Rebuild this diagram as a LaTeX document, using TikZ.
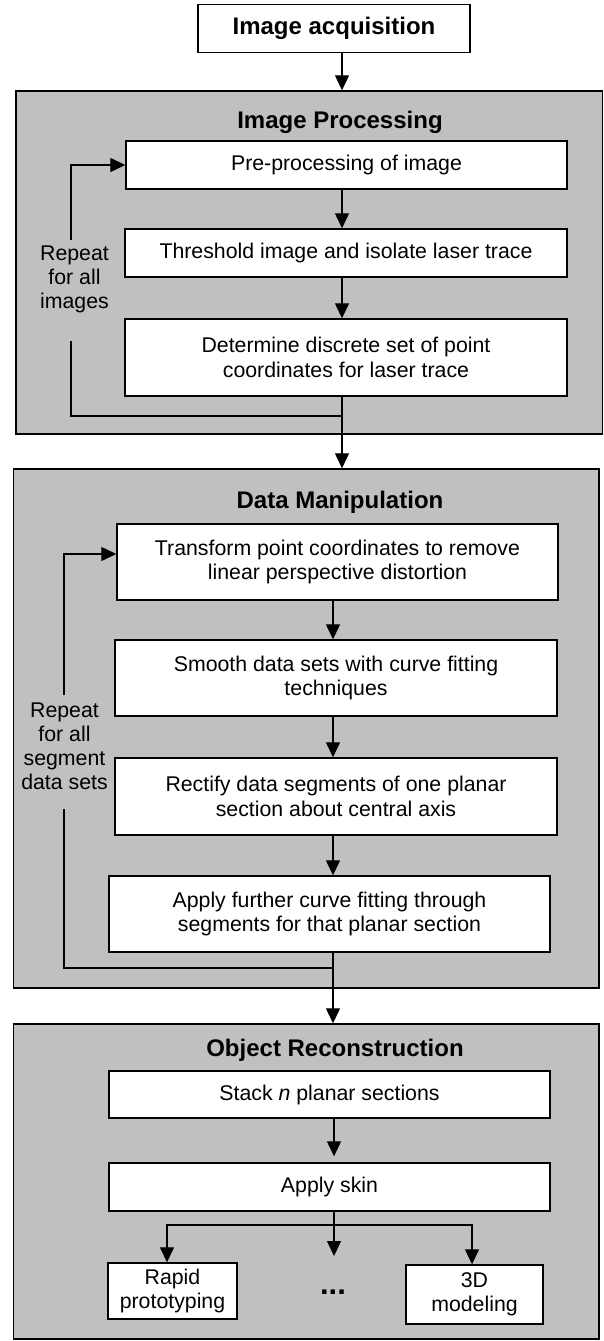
\documentclass[tikz,border=0pt]{standalone}
\usepackage{fontspec}
\setmainfont{Liberation Sans}
\usetikzlibrary{arrows.meta}
\definecolor{panelgray}{RGB}{192,192,192}

\begin{document}
\begin{tikzpicture}[x=1pt,y=-1pt,
  panel/.style={draw,line width=1.4pt,fill=panelgray,inner sep=0pt},
  stepbox/.style={draw,line width=1.4pt,fill=white,align=center,inner sep=0pt,font=\fontsize{21.3}{24.5}\selectfont},
  title/.style={font=\bfseries\fontsize{24}{28}\selectfont},
  note/.style={align=center,inner sep=0pt,font=\fontsize{21.3}{24}\selectfont},
  arr/.style={-{Triangle[width=14pt,length=15pt]},line width=1.3pt},
  wire/.style={line width=1.3pt}]

\useasboundingbox (0,0) rectangle (604,1341);

% the three grey stages
\node[panel,minimum width=586.5,minimum height=343] (ip) at (309.25,262.5) {};
\node[panel,minimum width=585.5,minimum height=519] (dm) at (306.25,728.5) {};
\node[panel,minimum width=585.5,minimum height=315] (orec) at (306.25,1181.5) {};

\node[title] (iptitle) at (340,122) {Image Processing};
\node[title] (dmtitle) at (340,502) {Data Manipulation};
\node[title] (ortitle) at (335,1050) {Object Reconstruction};

\node[stepbox,title,minimum width=272,minimum height=48] (acq) at (334,28.7) {Image acquisition};

\node[stepbox,minimum width=441,minimum height=48] (pre) at (346.5,165) {Pre-processing of image};
\node[stepbox,minimum width=442,minimum height=48] (thr) at (346,253) {Threshold image and isolate laser trace};
\node[stepbox,minimum width=442,minimum height=77] (det) at (346,357.5) {Determine discrete set of point\\coordinates for laser trace};
\node[note] (rep1) at (74.5,279) {Repeat\\for all\\images};

\node[stepbox,minimum width=441,minimum height=76] (trf) at (337.5,562) {Transform point coordinates to remove\\linear perspective distortion};
\node[stepbox,minimum width=442,minimum height=76] (smo) at (336,678) {Smooth data sets with curve fitting\\techniques};
\node[stepbox,minimum width=442,minimum height=77] (rec) at (336,796.5) {Rectify data segments of one planar\\section about central axis};
\node[stepbox,minimum width=441,minimum height=76] (apl) at (329.5,914) {Apply further curve fitting through\\segments for that planar section};
\node[note] (rep2) at (64.5,746) {Repeat\\for all\\segment\\data sets};

\node[stepbox,minimum width=441,minimum height=47] (stk) at (329.5,1094.5) {Stack \textit{n} planar sections};
\node[stepbox,minimum width=441,minimum height=48] (skn) at (329.5,1187) {Apply skin};
\node[stepbox,minimum width=129,minimum height=56] (rap) at (172.5,1291) {Rapid\\prototyping};
\node[stepbox,minimum width=137,minimum height=59] (mod) at (474.5,1294.5) {3D\\modeling};
\node[note,font=\bfseries\fontsize{31}{31}\selectfont] (dots) at (333,1292) {...};

\coordinate (axa) at (342,0);
\coordinate (axb) at (333,0);
\coordinate (lpa) at (71,416);
\coordinate (r1bot) at (71,341);
\coordinate (r1top) at (71,240);
\coordinate (lpb) at (64,968);
\coordinate (r2bot) at (64,809);
\coordinate (r2top) at (64,695);
\coordinate (br) at (334,1225);
\coordinate (brmid) at (334,1256);

% main flow
\draw[arr] (acq.south -| axa) -- (ip.north -| axa);
\draw[arr] (pre.south -| axa) -- (thr.north -| axa);
\draw[arr] (thr.south -| axa) -- (det.north -| axa);
\draw[arr] (det.south -| axa) -- (dm.north -| axa);
\draw[arr] (trf.south -| axb) -- (smo.north -| axb);
\draw[arr] (smo.south -| axb) -- (rec.north -| axb);
\draw[arr] (rec.south -| axb) -- (apl.north -| axb);
\draw[arr] (apl.south -| axb) -- (orec.north -| axb);
\draw[arr,shorten >=6pt] (stk.south -| br) -- (skn.north -| br);

% repeat loops
\draw[wire] (det.south -| axa) |- (lpa) -- (r1bot);
\draw[arr] (r1top) |- (pre.west);
\draw[wire] (apl.south -| axb) |- (lpb) -- (r2bot);
\draw[arr] (r2top) |- ([yshift=8pt]trf.west);

% outputs
\draw[wire] (skn.south -| br) -- (br);
\draw[arr] (br) -| ([xshift=-5.5pt]rap.north);
\draw[arr] (br) -| ([xshift=-2.5pt]mod.north);
\draw[arr] (br) -- (brmid);

\end{tikzpicture}
\end{document}
